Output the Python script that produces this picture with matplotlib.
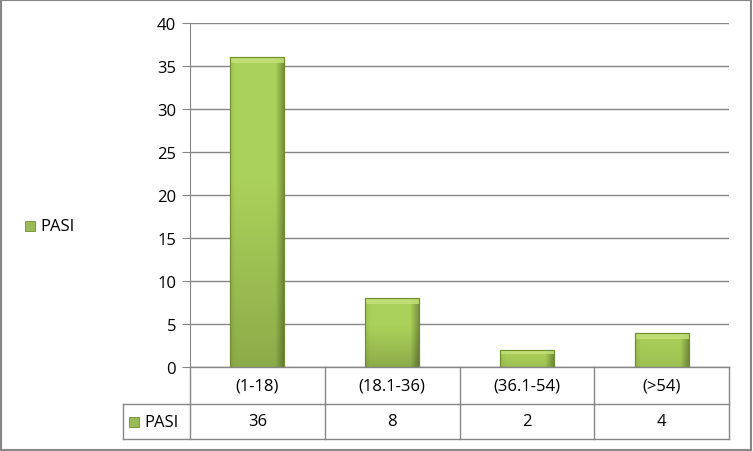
import matplotlib.pyplot as plt
import numpy as np
from matplotlib.patches import Rectangle

categories = ["(1-18)", "(18.1-36)", "(36.1-54)", "(>54)"]
values = [36, 8, 2, 4]
series_name = "PASI"
y_ticks = [0, 5, 10, 15, 20, 25, 30, 35, 40]

W, H = 753, 452
plt.rcParams['font.family'] = ['Open Sans', 'DejaVu Sans']

fig = plt.figure(figsize=(W / 100, H / 100), dpi=100)
fig.patch.set_facecolor("white")


def fx(px):
    return px / W


def fy(py):
    return 1 - py / H


grey = "#868686"
fs = 12
x0, x1 = 190, 729
y_top, y_bot = 24, 368
ax = fig.add_axes([fx(x0), fy(y_bot), fx(x1) - fx(x0), fy(y_top) - fy(y_bot)])
ax.set_xlim(-0.5, len(categories) - 0.5)
ax.set_ylim(0, 40)
ax.set_yticks(y_ticks)
ax.set_xticks([])
ax.tick_params(axis="y", length=6, color=grey, labelsize=fs, pad=4)
for s in ["top", "right", "bottom"]:
    ax.spines[s].set_visible(False)
ax.spines["left"].set_color(grey)
ax.yaxis.grid(True, color=grey, linewidth=1)
ax.set_axisbelow(True)

x = np.arange(len(categories))
bars = ax.bar(x, values, width=0.4, color="#a2c94e", edgecolor="#76962f", linewidth=0.8, zorder=3)

# shaded gradient on each bar (darker to the right edge and towards the bottom)
base = np.array([0.67, 0.82, 0.35])
px_per_unit = (y_bot - y_top) / 40
for b in bars:
    bx, by, bw, bh = b.get_x(), b.get_y(), b.get_width(), b.get_height()
    hpx = bh * px_per_unit
    ny = max(int(hpx), 2)
    img = np.ones((ny, 60, 4))
    for r in range(ny):
        from_top = r / ny * hpx
        vshade = 1 - 0.18 * max(0, (from_top - hpx * 0.4) / max(hpx * 0.6, 1)) if hpx > 40 else 1 - 0.08 * r / ny
        for cidx in range(60):
            g = cidx / 59
            hshade = 1 - 0.3 * max(0, (g - 0.85) / 0.15) - 0.08 * max(0, (0.1 - g) / 0.1)
            img[r, cidx, :3] = base * vshade * hshade
    im = ax.imshow(img, extent=[bx, bx + bw, by, by + bh], aspect="auto", zorder=3.5,
                   interpolation="bilinear")
    im.set_clip_path(b)
    top = min(6 / px_per_unit, bh * 0.25)
    ax.add_patch(Rectangle((bx, by + bh - top), bw, top, facecolor="#c3e07a", edgecolor="none",
                           alpha=0.85, zorder=3.6))
    ax.add_patch(Rectangle((bx, by), bw, bh, facecolor="none", edgecolor="#6f8d2b",
                           linewidth=0.8, zorder=3.7))
ax.set_xlim(-0.5, len(categories) - 0.5)
ax.set_ylim(0, 40)

# data table below plot
col_w = (x1 - x0) / len(categories)
row1_bot, row2_bot = 405, 440
lc = grey
lines = [
    ((x0, x1), (y_bot, y_bot)),
    ((123, x1), (row1_bot, row1_bot)),
    ((123, x1), (row2_bot, row2_bot)),
    ((123, 123), (row1_bot, row2_bot)),
    ((x0, x0), (y_bot, row2_bot)),
]
for i in range(1, len(categories) + 1):
    xc = x0 + i * col_w
    lines.append(((xc, xc), (y_bot, row2_bot)))
for (xa, xb), (ya, yb) in lines:
    fig.add_artist(plt.Line2D([fx(xa), fx(xb)], [fy(ya), fy(yb)], color=lc, linewidth=1))

for i, (c, v) in enumerate(zip(categories, values)):
    xc = x0 + (i + 0.5) * col_w
    fig.text(fx(xc), fy((y_bot + row1_bot) / 2), c, ha="center", va="center", fontsize=fs)
    fig.text(fx(xc), fy((row1_bot + row2_bot) / 2), str(v), ha="center", va="center", fontsize=fs)

# legend key in table
fig.add_artist(Rectangle((fx(129), fy(428)), fx(10), fy(418) - fy(428), facecolor="#9bbb59",
                         edgecolor="#6f8d2b", linewidth=0.6))
fig.text(fx(144), fy(423), series_name, ha="left", va="center", fontsize=fs)

# left legend
fig.add_artist(Rectangle((fx(25), fy(232)), fx(10), fy(222) - fy(232), facecolor="#9bbb59",
                         edgecolor="#6f8d2b", linewidth=0.6))
fig.text(fx(40), fy(227), series_name, ha="left", va="center", fontsize=fs)

# outer border
fig.add_artist(Rectangle((fx(1), fy(451)), fx(750), fy(1) - fy(451), facecolor="none",
                         edgecolor=grey, linewidth=1.5))

fig.savefig("out.png", dpi=100)
